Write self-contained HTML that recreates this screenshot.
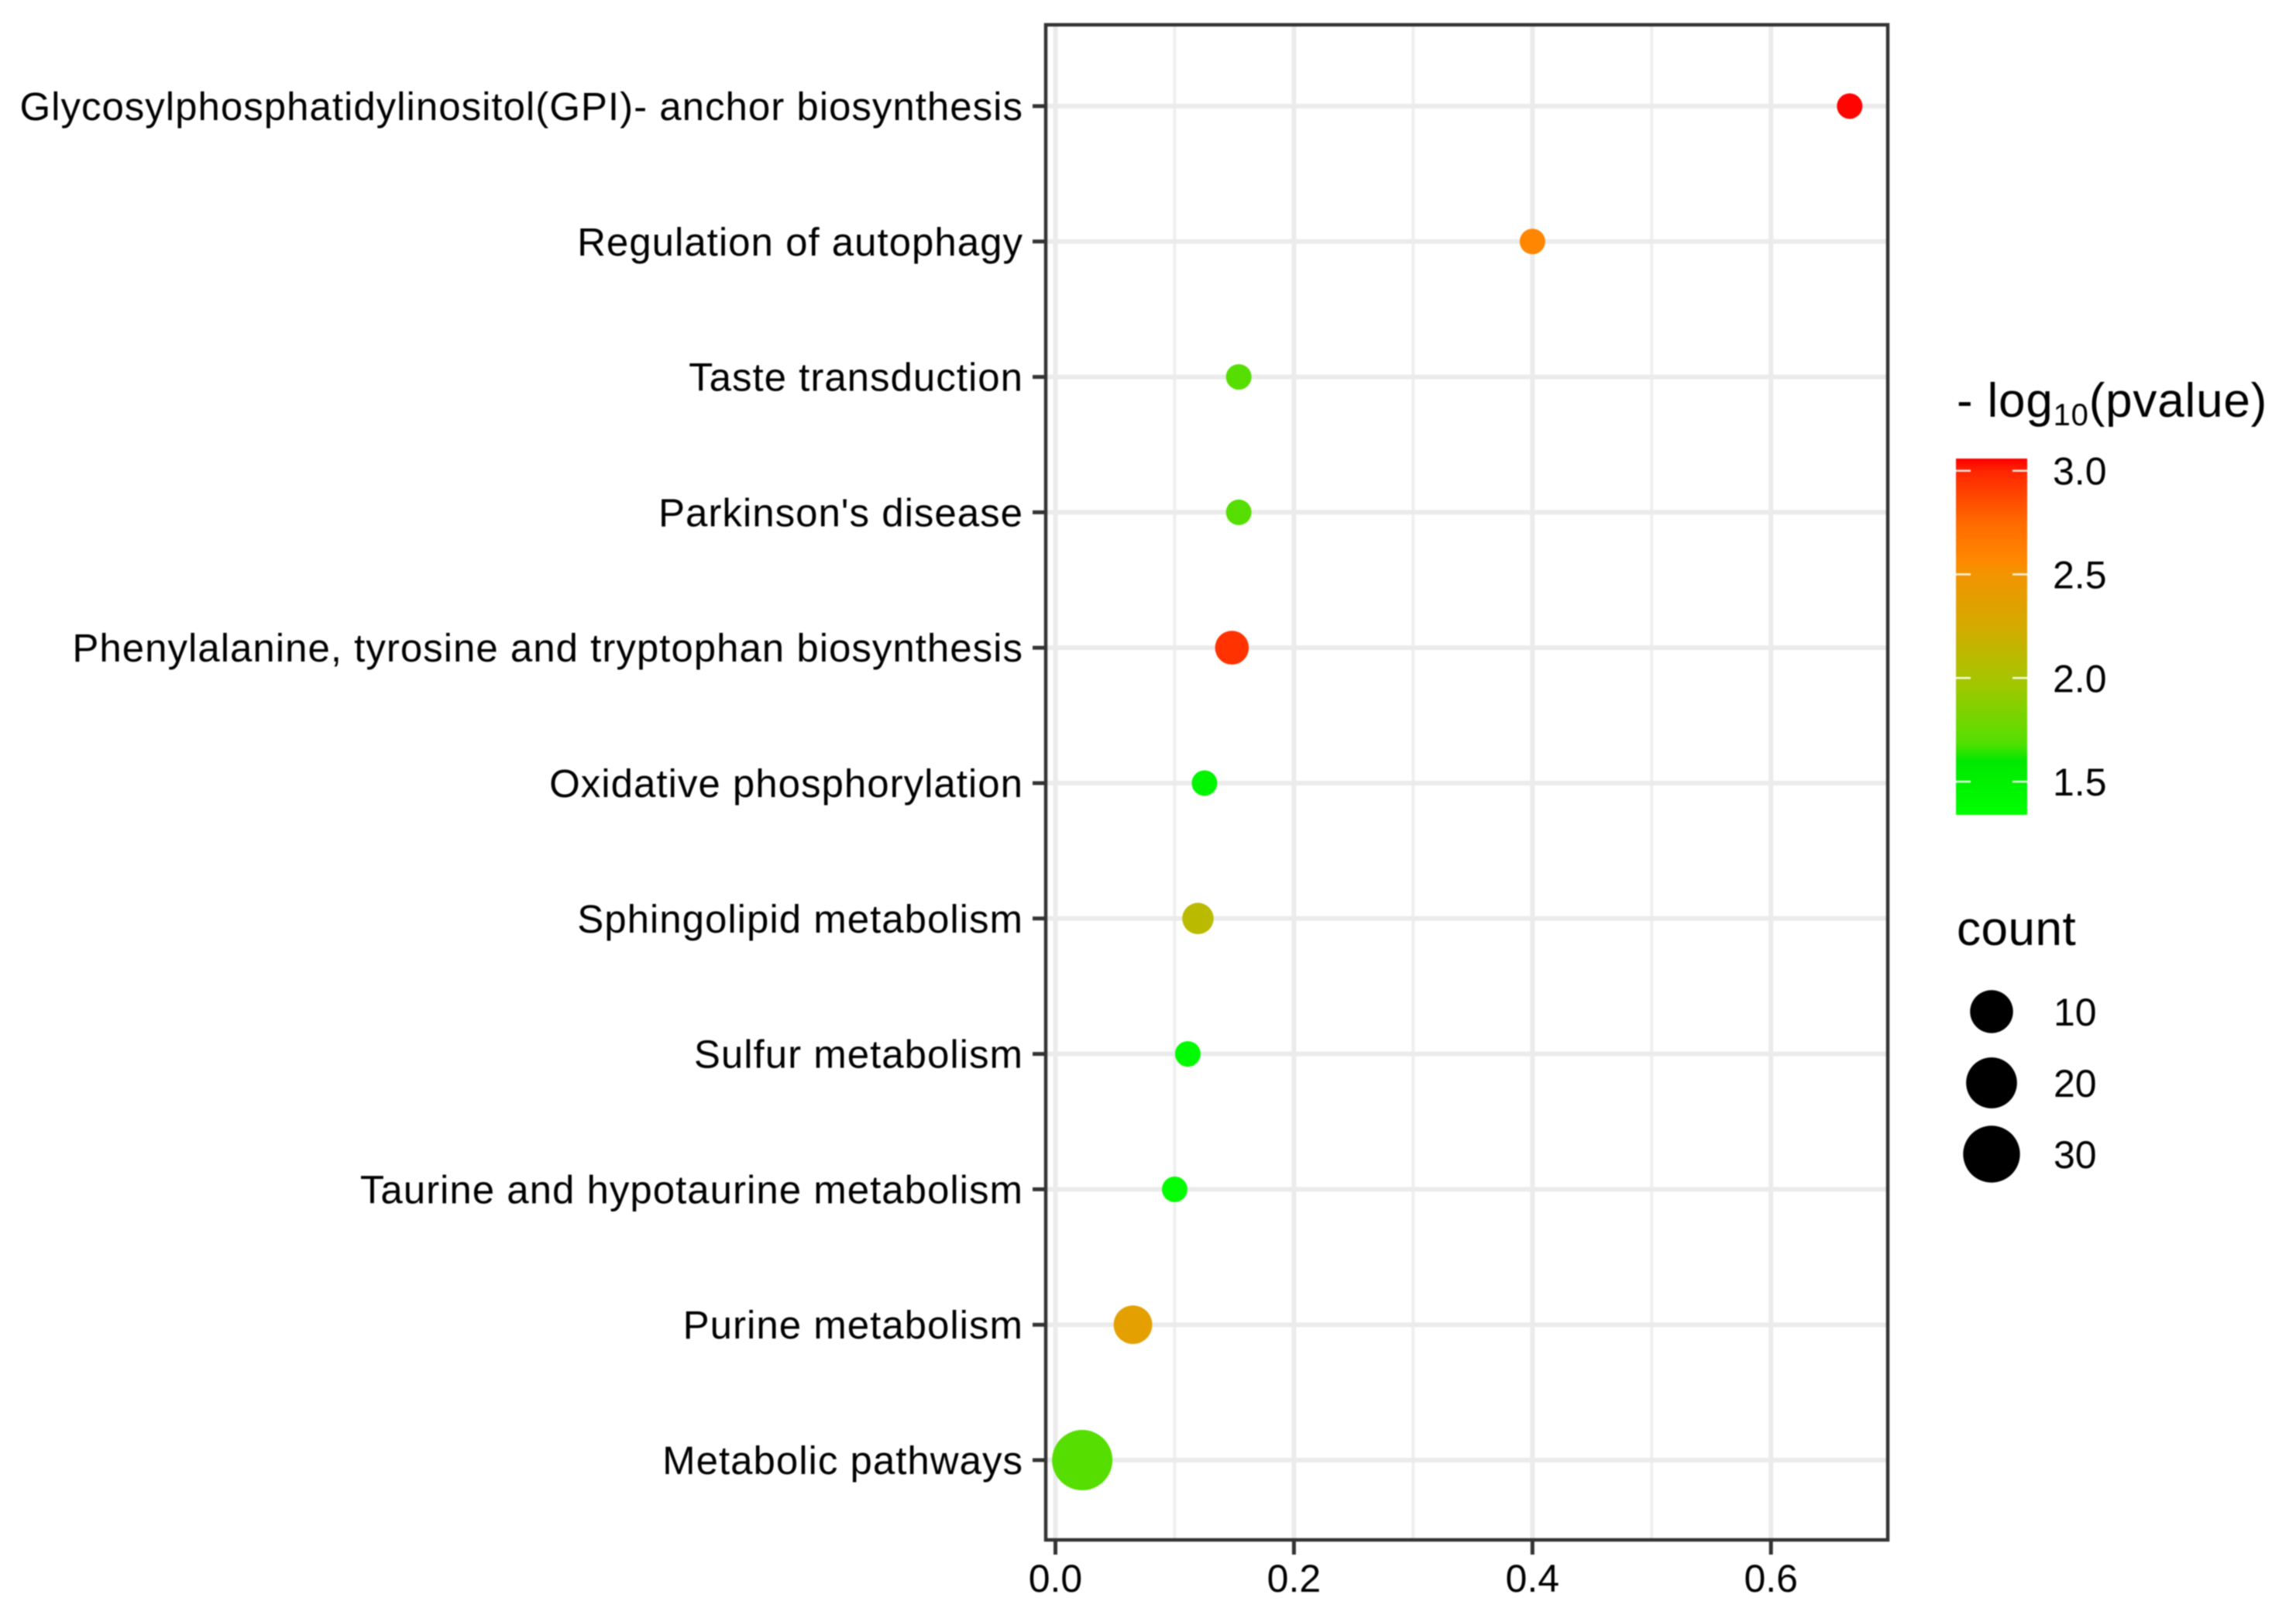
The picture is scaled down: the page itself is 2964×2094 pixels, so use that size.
<!DOCTYPE html>
<html lang="en">
<head>
<meta charset="utf-8">
<title>Pathway enrichment bubble chart</title>
<style>
html,body{margin:0;padding:0;background:#fff;}
svg{display:block;filter:blur(0.8px);}
text{font-family:"Liberation Sans",Arial,sans-serif;fill:#000;}
</style>
</head>
<body>
<svg id="chart" xmlns="http://www.w3.org/2000/svg" width="2964" height="2094" viewBox="0 0 2964 2094">
  <defs>
    <linearGradient id="colorbar-gradient" x1="0" y1="0" x2="0" y2="1"></linearGradient>
  </defs>
  <rect x="0" y="0" width="2964" height="2094" fill="#ffffff"></rect>
  <g id="grid"></g>
  <g id="points"></g>
  <g id="axes"></g>
  <g id="legend-color"></g>
  <g id="legend-size"></g>
</svg>
<script>
var categories = [
  "Glycosylphosphatidylinositol(GPI)- anchor biosynthesis",
  "Regulation of autophagy",
  "Taste transduction",
  "Parkinson's disease",
  "Phenylalanine, tyrosine and tryptophan biosynthesis",
  "Oxidative phosphorylation",
  "Sphingolipid metabolism",
  "Sulfur metabolism",
  "Taurine and hypotaurine metabolism",
  "Purine metabolism",
  "Metabolic pathways"
];
var ratioValues = [0.666, 0.4, 0.1537, 0.1537, 0.148, 0.125, 0.1195, 0.111, 0.1, 0.065, 0.0225];
var logPValues = [3.05, 2.58, 1.7, 1.7, 2.95, 1.45, 2.1, 1.38, 1.36, 2.38, 1.7];
var countValues = [1, 1, 1, 1, 3, 1, 2, 1, 1, 6, 37];
var xMajorTicks = [0, 0.2, 0.4, 0.6];
var xMinorTicks = [0.1, 0.3, 0.5];
var colorTicks = [1.5, 2, 2.5, 3];
var countTicks = [10, 20, 30];
var colorStopValues = [1.34, 1.6, 1.68, 1.75, 2, 2.25, 2.5, 2.58, 2.75, 3, 3.056];
var colorStopHex = ["#00ff00", "#00e800", "#4ee000", "#66da00", "#a8c400", "#d4aa00", "#f29400", "#ff8600", "#ff6a00", "#ff2400", "#ff0000"];

var NS = "http://www.w3.org/2000/svg";
var panel = {left: 1350, right: 2437, top: 32, bottom: 1988};
var x0 = 1362.5, xPerUnit = 1539.5;
var rowTop = 137, rowStep = 174.8;
var bar = {x: 2525, w: 92, top: 592, bottom: 1052, v3: 607.7, pxPerUnit: 267.6};

function xScale(v) { return x0 + v * xPerUnit; }
function yScale(i) { return rowTop + i * rowStep; }
function radiusScale(c) { return 16.5 + 3.75 * Math.sqrt(Math.max(c - 1, 0)); }
function barY(v) { return bar.v3 + (3 - v) * bar.pxPerUnit; }
function hexToRgb(h) { return [parseInt(h.substr(1, 2), 16), parseInt(h.substr(3, 2), 16), parseInt(h.substr(5, 2), 16)]; }
function colorScale(v) {
  var n = colorStopValues.length;
  if (v <= colorStopValues[0]) return colorStopHex[0];
  if (v >= colorStopValues[n - 1]) return colorStopHex[n - 1];
  for (var i = 1; i < n; i++) {
    if (v <= colorStopValues[i]) {
      var t = (v - colorStopValues[i - 1]) / (colorStopValues[i] - colorStopValues[i - 1]);
      var a = hexToRgb(colorStopHex[i - 1]), b = hexToRgb(colorStopHex[i]);
      return "rgb(" + Math.round(a[0] + (b[0] - a[0]) * t) + "," + Math.round(a[1] + (b[1] - a[1]) * t) + "," + Math.round(a[2] + (b[2] - a[2]) * t) + ")";
    }
  }
  return colorStopHex[n - 1];
}
function make(tag, parent, attrs, content) {
  var el = document.createElementNS(NS, tag);
  for (var k in attrs) el.setAttribute(k, attrs[k]);
  if (content !== undefined) el.textContent = content;
  parent.appendChild(el);
  return el;
}

var grid = document.getElementById("grid");
var pointsLayer = document.getElementById("points");
var axes = document.getElementById("axes");
var legendColor = document.getElementById("legend-color");
var legendSize = document.getElementById("legend-size");
var el, i;

/* grid lines */
xMinorTicks.forEach(function (t) {
  var el = make("line", grid, {x1: xScale(t), x2: xScale(t), y1: panel.top, y2: panel.bottom, stroke: "#efefef", "stroke-width": 4});
  
  
});
xMajorTicks.forEach(function (t) {
  var el = make("line", grid, {x1: xScale(t), x2: xScale(t), y1: panel.top, y2: panel.bottom, stroke: "#ebebeb", "stroke-width": 6});
  
  
});
categories.forEach(function (c, i) {
  var el = make("line", grid, {x1: panel.left, x2: panel.right, y1: yScale(i), y2: yScale(i), stroke: "#ebebeb", "stroke-width": 6});
  
  
});

/* points */
categories.forEach(function (c, i) {
  var el = make("circle", pointsLayer, {cx: xScale(ratioValues[i]), cy: yScale(i), r: radiusScale(countValues[i]), fill: colorScale(logPValues[i])});
  
  
});

/* panel border */
el = make("rect", axes, {x: panel.left, y: panel.top, width: panel.right - panel.left, height: panel.bottom - panel.top, fill: "none", stroke: "#333333", "stroke-width": 4.5});



/* y axis */
categories.forEach(function (c, i) {
  var tick = make("line", axes, {x1: 1333, x2: panel.left, y1: yScale(i), y2: yScale(i), stroke: "#333333", "stroke-width": 5});
  
  
  var label = make("text", axes, {x: 1321, y: yScale(i) + 18, "text-anchor": "end", "font-size": 51, "letter-spacing": 1}, c);
  
  
});

/* x axis */
xMajorTicks.forEach(function (t) {
  var tick = make("line", axes, {x1: xScale(t), x2: xScale(t), y1: panel.bottom, y2: 2007, stroke: "#333333", "stroke-width": 5});
  
  
  var label = make("text", axes, {x: xScale(t), y: 2055, "text-anchor": "middle", "font-size": 50}, t.toFixed(1));
  
  
});

/* colour legend */
var grad = document.getElementById("colorbar-gradient");
for (i = colorStopValues.length - 1; i >= 0; i--) {
  make("stop", grad, {offset: (barY(colorStopValues[i]) - bar.top) / (bar.bottom - bar.top), "stop-color": colorStopHex[i]});
}
el = make("text", legendColor, {x: 2526, y: 538, "font-size": 62, "letter-spacing": 0.8});


make("tspan", el, {}, "- log");
make("tspan", el, {dy: 11, "font-size": 40}, "10");
make("tspan", el, {dy: -11}, "(pvalue)");

el = make("rect", legendColor, {x: bar.x, y: bar.top, width: bar.w, height: bar.bottom - bar.top, fill: "url(#colorbar-gradient)"});



colorTicks.forEach(function (t) {
  var y = barY(t);
  var left = make("line", legendColor, {x1: bar.x, x2: bar.x + 19, y1: y, y2: y, stroke: "#ffffff", "stroke-width": 2.5, "stroke-opacity": 0.9});
  
  
  var right = make("line", legendColor, {x1: bar.x + bar.w - 19, x2: bar.x + bar.w, y1: y, y2: y, stroke: "#ffffff", "stroke-width": 2.5, "stroke-opacity": 0.9});
  
  
  var label = make("text", legendColor, {x: 2650, y: y + 18, "font-size": 50}, t.toFixed(1));
  
  
});

/* size legend */
el = make("text", legendSize, {x: 2526, y: 1220, "font-size": 62, "letter-spacing": 0.5}, "count");


var sizeKeyTop = 1306, sizeKeyStep = 92;
countTicks.forEach(function (c, i) {
  var y = sizeKeyTop + i * sizeKeyStep;
  var dot = make("circle", legendSize, {cx: 2571, cy: y, r: radiusScale(c), fill: "#000000"});
  
  
  var label = make("text", legendSize, {x: 2651, y: y + 18, "font-size": 50}, String(c));
  
  
});
</script>
</body>
</html>
